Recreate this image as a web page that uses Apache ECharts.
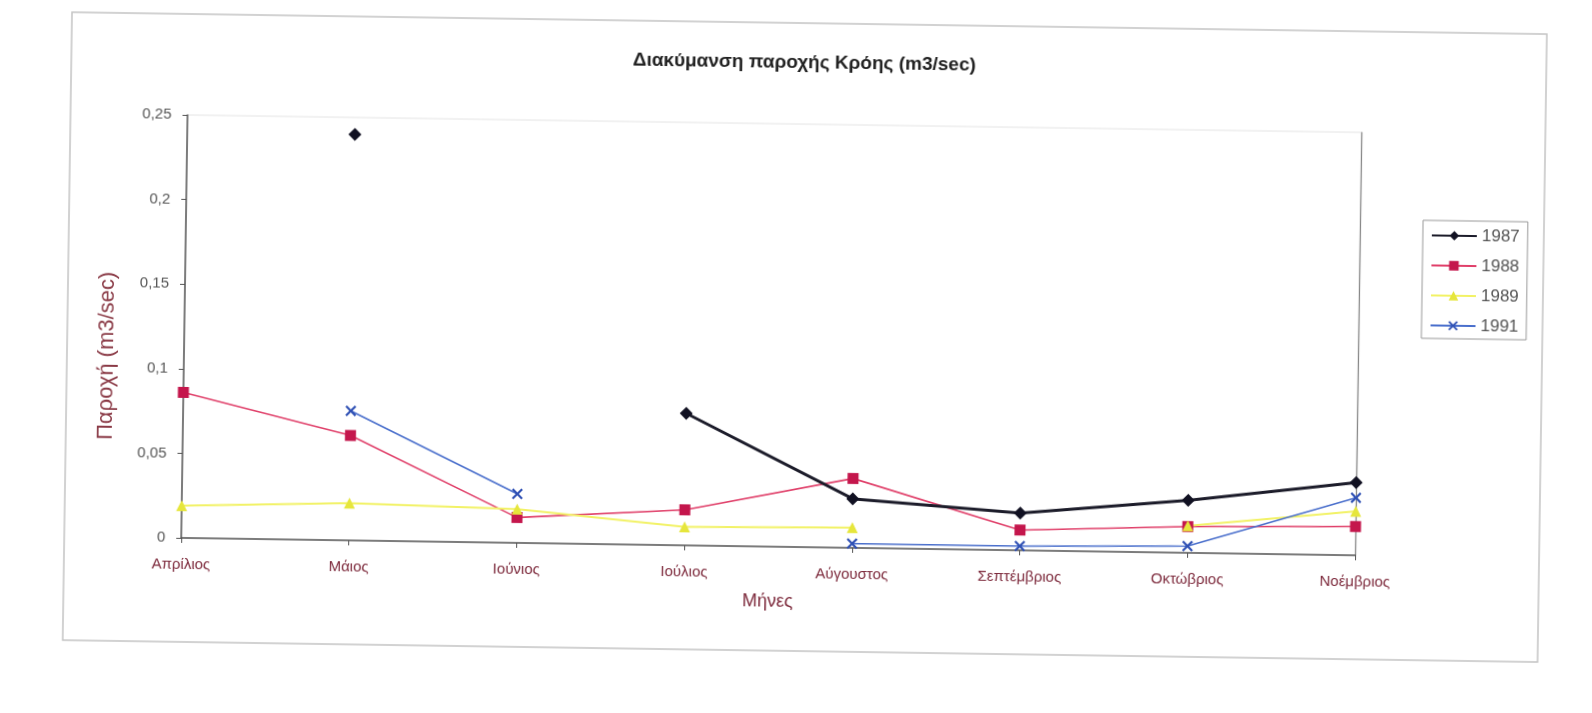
<!DOCTYPE html>
<html>
<head>
<meta charset="utf-8">
<title>Διακύμανση παροχής Κρόης</title>
<script src="https://cdn.jsdelivr.net/npm/echarts@6/dist/echarts.min.js"></script>
<style>
  html, body { margin: 0; padding: 0; background: #ffffff; overflow: hidden; }
  #chart {
    width: 1592px; height: 713px;
    transform: rotate(0.85deg);
    transform-origin: 796px 356px;
  }
</style>
</head>
<body>
<div id="chart"></div>
<script>
// Months of the measurement period
const months = ['Απρίλιος', 'Μάιος', 'Ιούνιος', 'Ιούλιος', 'Αύγουστος', 'Σεπτέμβριος', 'Οκτώβριος', 'Νοέμβριος'];

// Monthly discharge (m3/sec) per year; null = no measurement
const flow1987 = [null, 0.240, null, 0.078, 0.029, 0.022, 0.031, 0.043];
const flow1988 = [0.086, 0.062, 0.015, 0.021, 0.041, 0.012, 0.0155, 0.017];
const flow1989 = [0.019, 0.022, 0.020, 0.011, 0.012, null, 0.016, 0.026];
const flow1991 = [null, 0.0765, 0.029, null, 0.0025, 0.0025, 0.004, 0.034];

// Value axis ticks
const yMin = 0, yMax = 0.25, yStep = 0.05;

const FONT = '"Liberation Sans", Arial, sans-serif';
const crossMark = 'path://M0,1.4 L1.4,0 L5,3.6 L8.6,0 L10,1.4 L6.4,5 L10,8.6 L8.6,10 L5,6.4 L1.4,10 L0,8.6 L3.6,5 Z';

const chart = echarts.init(document.getElementById('chart'), null, { renderer: 'canvas' });

chart.setOption({
  backgroundColor: '#ffffff',
  animation: false,
  textStyle: { fontFamily: FONT },
  title: {
    text: 'Διακύμανση παροχής Κρόης (m3/sec)',
    left: 795, top: 48, textAlign: 'center',
    textStyle: { fontFamily: FONT, fontSize: 19, fontWeight: 'bold', color: '#222' }
  },
  legend: {
    orient: 'vertical',
    left: 1421, top: 211,
    padding: [6, 8, 4, 8],
    itemWidth: 45, itemHeight: 12, itemGap: 12,
    borderColor: '#999', borderWidth: 1,
    backgroundColor: '#fff',
    textStyle: { fontFamily: FONT, fontSize: 17, color: '#555', lineHeight: 18 },
    data: ['1987', '1988', '1989', '1991']
  },
  grid: {
    left: 184, right: 234, top: 124, bottom: 166,
    show: true, borderColor: '#e4e4e4', borderWidth: 1
  },
  xAxis: {
    type: 'category',
    data: months,
    boundaryGap: false,
    name: 'Μήνες',
    nameLocation: 'middle',
    nameGap: 46,
    nameTextStyle: { fontFamily: FONT, fontSize: 18, color: '#7d2a3c' },
    axisLine: { lineStyle: { color: '#555', width: 1.5 } },
    axisTick: { show: true, length: 5, alignWithLabel: true, lineStyle: { color: '#555' } },
    axisLabel: { margin: 19, fontFamily: FONT, fontSize: 15, color: '#7d2a3c' },
    splitLine: { show: false }
  },
  yAxis: [{
    type: 'value',
    min: yMin, max: yMax, interval: yStep,
    axisLine: { show: true, lineStyle: { color: '#555', width: 1.5 } },
    axisTick: { show: true, length: 5, lineStyle: { color: '#555' } },
    axisLabel: {
      margin: 16, fontFamily: FONT, fontSize: 15, color: '#555',
      formatter: v => String(+v.toFixed(2)).replace('.', ',')
    },
    splitLine: { show: false }
  }, {
    type: 'value',
    position: 'right',
    min: yMin, max: yMax, interval: yStep,
    axisLine: { show: true, lineStyle: { color: '#888', width: 1.2 } },
    axisTick: { show: false },
    axisLabel: { show: false },
    splitLine: { show: false }
  }],
  graphic: [
    {
      type: 'rect',
      shape: { x: 67, y: 23, width: 1475, height: 628 },
      style: { fill: 'none', stroke: '#c4c4c4', lineWidth: 1.5 },
      silent: true, z: -10
    },
    {
      type: 'text',
      x: 107, y: 366,
      rotation: Math.PI / 2,
      style: {
        text: 'Παροχή (m3/sec)',
        font: '22px "Liberation Sans", Arial, sans-serif',
        fill: '#8a3a46',
        align: 'center', verticalAlign: 'middle'
      },
      silent: true
    }
  ],
  series: [
    {
      name: '1987', type: 'line', data: flow1987,
      symbol: 'diamond', symbolSize: 13,
      itemStyle: { color: '#111122' },
      lineStyle: { color: '#1c1c2a', width: 3 },
      z: 4
    },
    {
      name: '1988', type: 'line', data: flow1988,
      symbol: 'rect', symbolSize: 11,
      itemStyle: { color: '#c4164c' },
      lineStyle: { color: '#e0406a', width: 1.6 },
      z: 3
    },
    {
      name: '1989', type: 'line', data: flow1989,
      symbol: 'triangle', symbolSize: 11,
      itemStyle: { color: '#e6e63c' },
      lineStyle: { color: '#f2f266', width: 2 },
      z: 3
    },
    {
      name: '1991', type: 'line', data: flow1991,
      symbol: crossMark, symbolSize: 11,
      itemStyle: { color: '#2f50b4' },
      lineStyle: { color: '#4a6fcc', width: 1.6 },
      z: 5
    }
  ]
});
</script>
</body>
</html>
